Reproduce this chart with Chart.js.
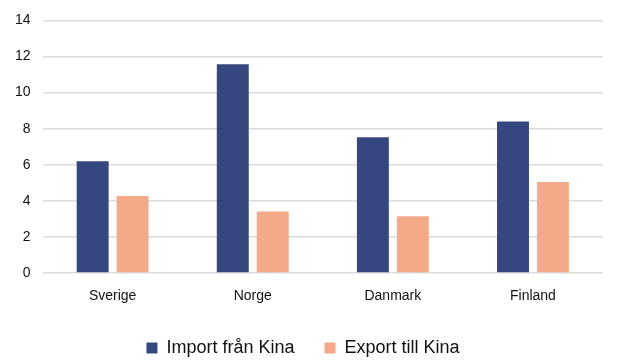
<!DOCTYPE html>
<html>
<head>
<meta charset="utf-8">
<script src="https://cdn.jsdelivr.net/npm/chart.js@4"></script>
<style>
  html, body { margin: 0; padding: 0; background: #fff; }
  #wrap { width: 625px; height: 362px; }
</style>
</head>
<body>
<div id="wrap"><canvas id="chart"></canvas></div>
<script>
const countries = ["Sverige", "Norge", "Danmark", "Finland"];
const importValues = [6.2, 11.57, 7.53, 8.39];
const exportValues = [4.27, 3.41, 3.15, 5.04];

const ctx = document.getElementById("chart").getContext("2d");
new Chart(ctx, {
  type: "bar",
  data: {
    labels: countries,
    datasets: [
      {
        label: "Import från Kina",
        data: importValues,
        backgroundColor: "#36467e",
        barPercentage: 0.8,
        categoryPercentage: 0.57,
      },
      {
        label: "Export till Kina",
        data: exportValues,
        backgroundColor: "#f4aa88",
        barPercentage: 0.8,
        categoryPercentage: 0.57,
      },
    ],
  },
  options: {
    responsive: true,
    maintainAspectRatio: false,
    animation: false,
    layout: { padding: { top: 12, right: 22, left: 3, bottom: -5 } },
    plugins: {
      tooltip: { enabled: false },
      legend: {
        position: "bottom",
        labels: {
          boxWidth: 11,
          boxHeight: 11,
          padding: 30,
          color: "#111",
          font: { family: "Liberation Sans, Arial, sans-serif", size: 18 },
        },
      },
    },
    scales: {
      x: {
        grid: { display: false },
        border: { display: false },
        afterFit: function (scale) {
          scale.height = 36;
        },
        ticks: {
          color: "#111",
          padding: 7,
          font: { family: "Liberation Sans, Arial, sans-serif", size: 14 },
        },
      },
      y: {
        min: 0,
        max: 14,
        ticks: {
          stepSize: 2,
          color: "#111",
          padding: 12,
          font: { family: "Liberation Sans, Arial, sans-serif", size: 14 },
        },
        grid: { color: "#dcdcdc", lineWidth: 1.5, drawTicks: false },
        border: { display: false },
      },
    },
  },
});
</script>
</body>
</html>
